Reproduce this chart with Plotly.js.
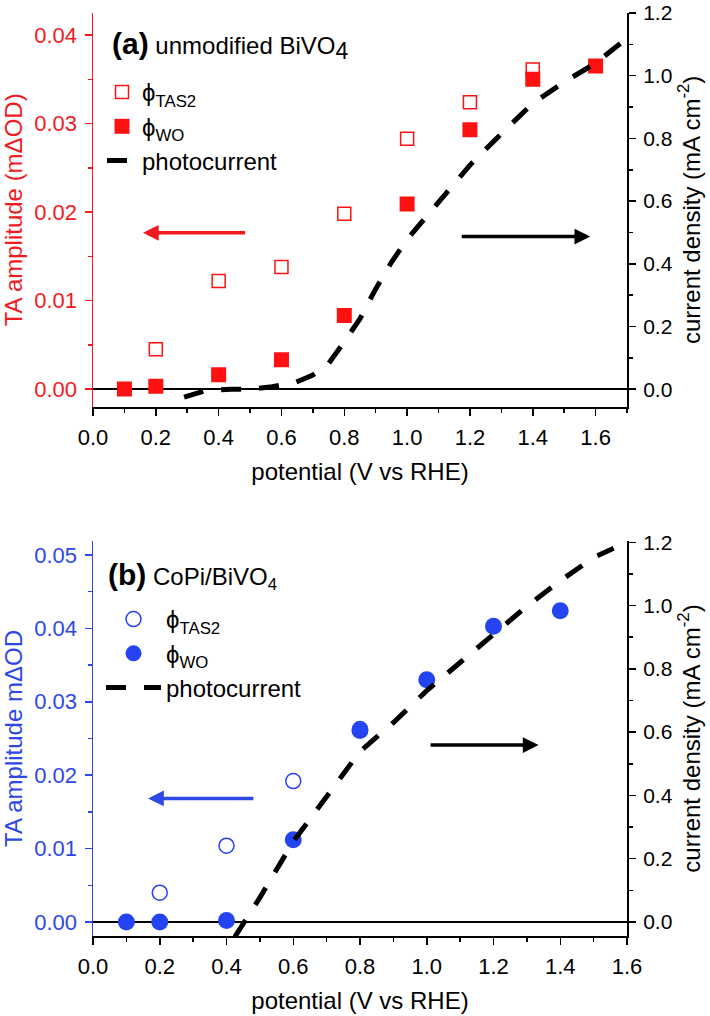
<!DOCTYPE html>
<html><head><meta charset="utf-8">
<script src="https://cdn.plot.ly/plotly-3.0.1.min.js"></script>
<style>html,body{margin:0;padding:0;background:#fff}</style>
</head><body>
<div id="chart" style="width:710px;height:1016px"></div>
<script>
// ---------- Panel (a): unmodified BiVO4 ----------
const potA_tas = [0.2, 0.4, 0.6, 0.8, 1.0, 1.2, 1.4];
const tasA     = [0.0045, 0.0122, 0.0138, 0.0198, 0.0283, 0.0324, 0.0361];
const potA_wo  = [0.1, 0.2, 0.4, 0.6, 0.8, 1.0, 1.2, 1.4, 1.6];
const woA      = [0.0000, 0.0003, 0.0016, 0.0033, 0.0083, 0.0209, 0.0293, 0.0350, 0.0365];
const potA_j   = [0.29, 0.36, 0.44, 0.50, 0.57, 0.64, 0.70, 0.75, 0.80, 0.85, 0.90, 0.95, 1.00, 1.10, 1.20, 1.30, 1.40, 1.50, 1.60, 1.68];
const jA       = [-0.025, -0.004, 0.000, 0.000, 0.008, 0.020, 0.045, 0.082, 0.151, 0.225, 0.320, 0.405, 0.478, 0.595, 0.715, 0.815, 0.912, 0.980, 1.040, 1.104];

// ---------- Panel (b): CoPi/BiVO4 ----------
const potB_tas = [0.2, 0.4, 0.6, 0.8];
const tasB     = [0.0040, 0.0104, 0.0192, 0.0263];
const potB_wo  = [0.1, 0.2, 0.4, 0.6, 0.8, 1.0, 1.2, 1.4];
const woB      = [0.0000, 0.0000, 0.0002, 0.0112, 0.0261, 0.0330, 0.0403, 0.0424];
const potB_j   = [0.425, 0.50, 0.60, 0.70, 0.80, 0.90, 1.00, 1.10, 1.20, 1.30, 1.40, 1.50, 1.56];
const jB       = [-0.047, 0.077, 0.254, 0.397, 0.539, 0.630, 0.731, 0.820, 0.910, 0.998, 1.078, 1.152, 1.181];

// labels
const nameTAS = 'ϕ<sub>TAS2</sub>';
const nameWO  = 'ϕ<sub>WO</sub>';
const nameJ   = 'photocurrent';
const titleA  = '<b><span style="font-size:30px">(a)</span></b> unmodified BiVO<sub><span style="font-size:23px">4</span></sub>';
const titleB  = '<b><span style="font-size:30px">(b)</span></b> CoPi/BiVO<sub>4</sub>';
const xTitle  = 'potential (V vs RHE)';
const yLeftA  = 'TA amplitude (mΔOD)';
const yLeftB  = 'TA amplitude mΔOD';
const yRight  = 'current density (mA cm<sup>-2</sup>)';

// ---------- geometry helpers ----------
const W = 710, H = 1016, ML = 93, MR = 83, MT = 13, MB = 80;
const PW = W - ML - MR, PH = H - MT - MB;
const px = v => (v - ML) / PW;
const py = v => (H - MB - v) / PH;

const RED = '#f21a1f', REDM = '#ff1111';
const BLUE = '#2d48e6', BLUEM = '#2444f2';
const FONT = 'Liberation Sans, Arial, Helvetica, sans-serif';
const TICKF = {family: FONT, size: 22, color: '#000'};
const TICKFR = {family: FONT, size: 21, color: '#000'};
const TITLEF = {family: FONT, size: 24, color: '#000'};
const DASH = '20px,18px';

const traces = [
  {x: potA_tas, y: tasA, type: 'scatter', mode: 'markers', name: nameTAS, xaxis: 'x', yaxis: 'y',
   marker: {symbol: 'square-open', size: 13, color: REDM, line: {width: 1.5, color: REDM}}, legend: 'legend'},
  {x: potA_wo, y: woA, type: 'scatter', mode: 'markers', name: nameWO, xaxis: 'x', yaxis: 'y',
   marker: {symbol: 'square', size: 15, color: REDM}, legend: 'legend'},
  {x: potA_j, y: jA, type: 'scatter', mode: 'lines', name: nameJ, xaxis: 'x', yaxis: 'y2',
   line: {color: '#000', width: 5, dash: DASH}, legend: 'legend'},

  {x: potB_tas, y: tasB, type: 'scatter', mode: 'markers', name: nameTAS, xaxis: 'x2', yaxis: 'y3',
   marker: {symbol: 'circle-open', size: 15, color: BLUEM, line: {width: 1.5, color: BLUEM}}, legend: 'legend2'},
  {x: potB_wo, y: woB, type: 'scatter', mode: 'markers', name: nameWO, xaxis: 'x2', yaxis: 'y3',
   marker: {symbol: 'circle', size: 17, color: BLUEM}, legend: 'legend2'},
  {x: potB_j, y: jB, type: 'scatter', mode: 'lines', name: nameJ, xaxis: 'x2', yaxis: 'y4',
   line: {color: '#000', width: 5, dash: DASH}, legend: 'legend2'}
];

function xBottom(range, anchor) {
  return {
    range: range, anchor: anchor, showgrid: false, zeroline: false,
    showline: true, linecolor: '#000', linewidth: 2,
    ticks: 'outside', ticklen: 7, tickwidth: 1.5, tickcolor: '#000',
    dtick: 0.2, tick0: 0, tickformat: '.1f', tickfont: TICKF, ticklabelstandoff: 3,
    ticklabeloverflow: 'allow',
    minor: {ticks: 'outside', ticklen: 4, tickwidth: 1.5, tickcolor: '#000', dtick: 0.1, tick0: 0},
    title: {text: xTitle, font: TITLEF, standoff: 14}
  };
}
function xTop(range, over, anchor) {
  return {
    range: range, overlaying: over, anchor: anchor, side: 'top', showgrid: false, zeroline: false,
    showline: true, linecolor: '#000', linewidth: 2, showticklabels: false,
    ticks: 'inside', ticklen: 6, tickwidth: 1.5, tickcolor: '#000', dtick: 0.2, tick0: 0,
    minor: {ticks: 'inside', ticklen: 4, tickwidth: 1.5, tickcolor: '#000', dtick: 0.1, tick0: 0}
  };
}
function yLeft(range, domain, anchor, color, title) {
  return {
    range: range, domain: domain, anchor: anchor, showgrid: false,
    zeroline: true, zerolinecolor: '#000', zerolinewidth: 1.5,
    showline: true, linecolor: color, linewidth: 1.5,
    ticks: 'outside', ticklen: 7, tickwidth: 1.5, tickcolor: color,
    dtick: 0.01, tick0: 0, tickformat: '.2f', tickfont: {family: FONT, size: 22, color: color},
    ticklabelstandoff: 3, ticklabeloverflow: 'allow',
    minor: {ticks: 'outside', ticklen: 4, tickwidth: 1.5, tickcolor: color, dtick: 0.005, tick0: 0},
    title: {text: title, font: {family: FONT, size: 24, color: color}, standoff: 5}
  };
}
function yRightAx(range, over, anchor) {
  return {
    range: range, overlaying: over, anchor: anchor, side: 'right', showgrid: false, zeroline: false,
    showline: true, linecolor: '#000', linewidth: 2,
    ticks: 'outside', ticklen: 7, tickwidth: 1.5, tickcolor: '#000',
    dtick: 0.2, tick0: 0, tickformat: '.1f', tickfont: TICKFR, ticklabelstandoff: 3,
    ticklabeloverflow: 'allow',
    minor: {ticks: 'outside', ticklen: 4, tickwidth: 1.5, tickcolor: '#000', dtick: 0.1, tick0: 0},
    title: {text: yRight, font: TITLEF, standoff: 11}
  };
}

const domA = [py(406.7), 1];
const domB = [0, py(541)];

const legendBase = {
  bgcolor: 'rgba(0,0,0,0)', borderwidth: 0, xanchor: 'left', yanchor: 'top',
  font: {family: FONT, size: 24, color: '#000'}, traceorder: 'normal'
};

const arrow = (xref, yref, x, y, ax, color) => ({
  xref: xref, yref: yref, axref: xref, ayref: yref, x: x, y: y, ax: ax, ay: y,
  text: '', showarrow: true, arrowhead: 2, arrowsize: 0.9, arrowwidth: 3.5, arrowcolor: color,
  standoff: 0, startstandoff: 0
});

const layout = {
  width: W, height: H,
  margin: {l: ML, r: MR, t: MT, b: MB},
  paper_bgcolor: '#fff', plot_bgcolor: 'rgba(0,0,0,0)',
  font: {family: FONT, size: 22, color: '#000'},
  xaxis: xBottom([0, 1.7], 'y'),
  xaxis3: xTop([0, 1.7], 'x', 'y'),
  yaxis: yLeft([-0.002, 0.0425], domA, 'x', RED, yLeftA),
  yaxis2: yRightAx([-0.0558, 1.2001], 'y', 'x'),
  xaxis2: xBottom([0, 1.6], 'y3'),
  xaxis4: xTop([0, 1.6], 'x2', 'y3'),
  yaxis3: yLeft([-0.0019, 0.0519], domB, 'x2', BLUE, yLeftB),
  yaxis4: yRightAx([-0.0443, 1.204], 'y3', 'x2'),
  legend: Object.assign({}, legendBase, {x: px(102), y: py(70), itemwidth: 30}),
  legend2: Object.assign({}, legendBase, {x: px(101), y: py(597), itemwidth: 55}),
  showlegend: true,
  annotations: [
    {xref: 'paper', yref: 'paper', x: px(110), y: py(45), xanchor: 'left', yanchor: 'middle',
     text: titleA, showarrow: false, font: {family: FONT, size: 24, color: '#000'}},
    {xref: 'paper', yref: 'paper', x: px(106), y: py(576), xanchor: 'left', yanchor: 'middle',
     text: titleB, showarrow: false, font: {family: FONT, size: 24, color: '#000'}},
    arrow('x', 'y', 0.159, 0.01765, 0.489, RED),
    arrow('x', 'y2', 1.583, 0.487, 1.169, '#000'),
    arrow('x2', 'y3', 0.165, 0.01683, 0.485, BLUE),
    arrow('x2', 'y4', 1.335, 0.559, 1.007, '#000')
  ]
};

Plotly.newPlot('chart', traces, layout, {displayModeBar: false, staticPlot: true});
</script>
</body></html>
